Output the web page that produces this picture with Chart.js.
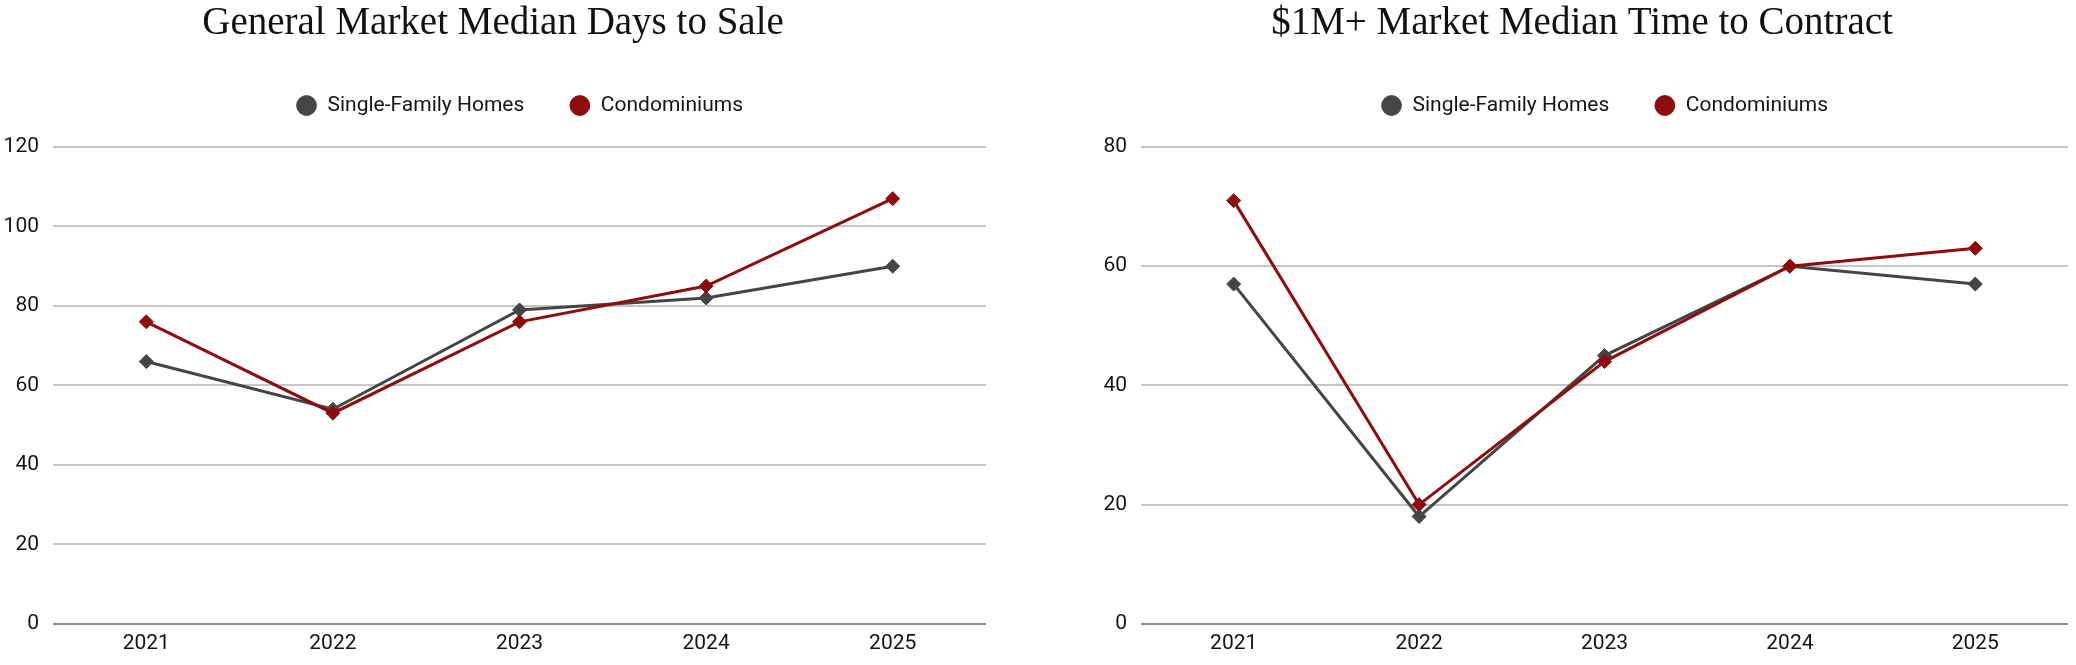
<!DOCTYPE html>
<html>
<head>
<meta charset="utf-8">
<script src="https://cdn.jsdelivr.net/npm/chart.js@4/dist/chart.umd.min.js"></script>
<style>
  html, body { margin: 0; padding: 0; background: #ffffff; }
  body { width: 2076px; height: 665px; position: relative; overflow: hidden; }
  .box { position: absolute; top: 0; height: 665px; width: 1038px; }
  #boxLeft { left: 0; }
  #boxRight { left: 1038px; }
</style>
</head>
<body>
<div class="box" id="boxLeft"><canvas id="chartLeft"></canvas></div>
<div class="box" id="boxRight"><canvas id="chartRight"></canvas></div>
<script>
// ---- Data ----
const years = ['2021', '2022', '2023', '2024', '2025'];
const seriesNames = ['Single-Family Homes', 'Condominiums'];

const generalSingleFamily = [66, 54, 79, 82, 90];
const generalCondo = [76, 53, 76, 85, 107];

const luxurySingleFamily = [57, 18, 45, 60, 57];
const luxuryCondo = [71, 20, 44, 60, 63];

const generalTitle = 'General Market Median Days to Sale';
const luxuryTitle = '$1M+ Market Median Time to Contract';

const generalYMax = 120;
const luxuryYMax = 80;
const yStep = 20;

// ---- Styles ----
const colSFH = '#454545';
const colCondo = '#8e0c0c';
const gridCol = '#c6c6c6';
const zeroCol = '#8c8c8c';
const textCol = '#141414';
const sansFont = 'Roboto, "Noto Sans", sans-serif';
const serifFont = '"Liberation Serif", "DejaVu Serif", serif';

function makeDataset(label, data, color, order) {
  return {
    label: label,
    data: data,
    borderColor: color,
    backgroundColor: color,
    borderWidth: 3,
    pointStyle: 'rectRot',
    pointRadius: 7,
    pointHoverRadius: 7,
    pointBackgroundColor: color,
    pointBorderColor: color,
    pointBorderWidth: 1,
    tension: 0,
    fill: false,
    order: order
  };
}

function makeChart(canvasId, title, sfh, condo, yMax, pad) {
  return new Chart(document.getElementById(canvasId), {
    type: 'line',
    data: {
      labels: years,
      datasets: [
        makeDataset(seriesNames[0], sfh, colSFH, 1),
        makeDataset(seriesNames[1], condo, colCondo, 0)
      ]
    },
    options: {
      responsive: true,
      maintainAspectRatio: false,
      devicePixelRatio: 1,
      animation: false,
      layout: { padding: pad },
      plugins: {
        title: {
          display: true,
          text: title,
          color: '#111111',
          font: { family: serifFont, size: 39, weight: 'normal', lineHeight: 1 },
          padding: { top: 4, bottom: 7 }
        },
        subtitle: {
          display: true,
          text: '',
          weight: 500,
          font: { size: 21, lineHeight: 1 },
          padding: 0
        },
        legend: {
          display: true,
          position: 'top',
          fullSize: false,
          labels: {
            usePointStyle: true,
            pointStyle: 'circle',
            boxWidth: 21,
            boxHeight: 14,
            padding: 45,
            color: textCol,
            font: { family: sansFont, size: 21 },
            sort: (a, b) => a.datasetIndex - b.datasetIndex
          }
        },
        tooltip: { enabled: false }
      },
      scales: {
        x: {
          offset: true,
          grid: { display: false, drawTicks: false },
          border: { display: false },
          ticks: { color: textCol, font: { family: sansFont, size: 21 }, padding: 7 }
        },
        y: {
          min: 0,
          max: yMax,
          ticks: { stepSize: yStep, color: textCol, font: { family: sansFont, size: 21 }, padding: 14 },
          grid: {
            drawTicks: false,
            lineWidth: 2,
            color: (ctx) => (ctx.tick && ctx.tick.value === 0) ? zeroCol : gridCol
          },
          border: { display: false },
          afterFit: (scale) => { scale.width = 53; }
        }
      }
    }
  });
}

makeChart('chartLeft', generalTitle, generalSingleFamily, generalCondo, generalYMax,
  { top: 0, right: 52, bottom: 2, left: 0 });
makeChart('chartRight', luxuryTitle, luxurySingleFamily, luxuryCondo, luxuryYMax,
  { top: 0, right: 0, bottom: 2, left: 50 });
</script>
</body>
</html>
